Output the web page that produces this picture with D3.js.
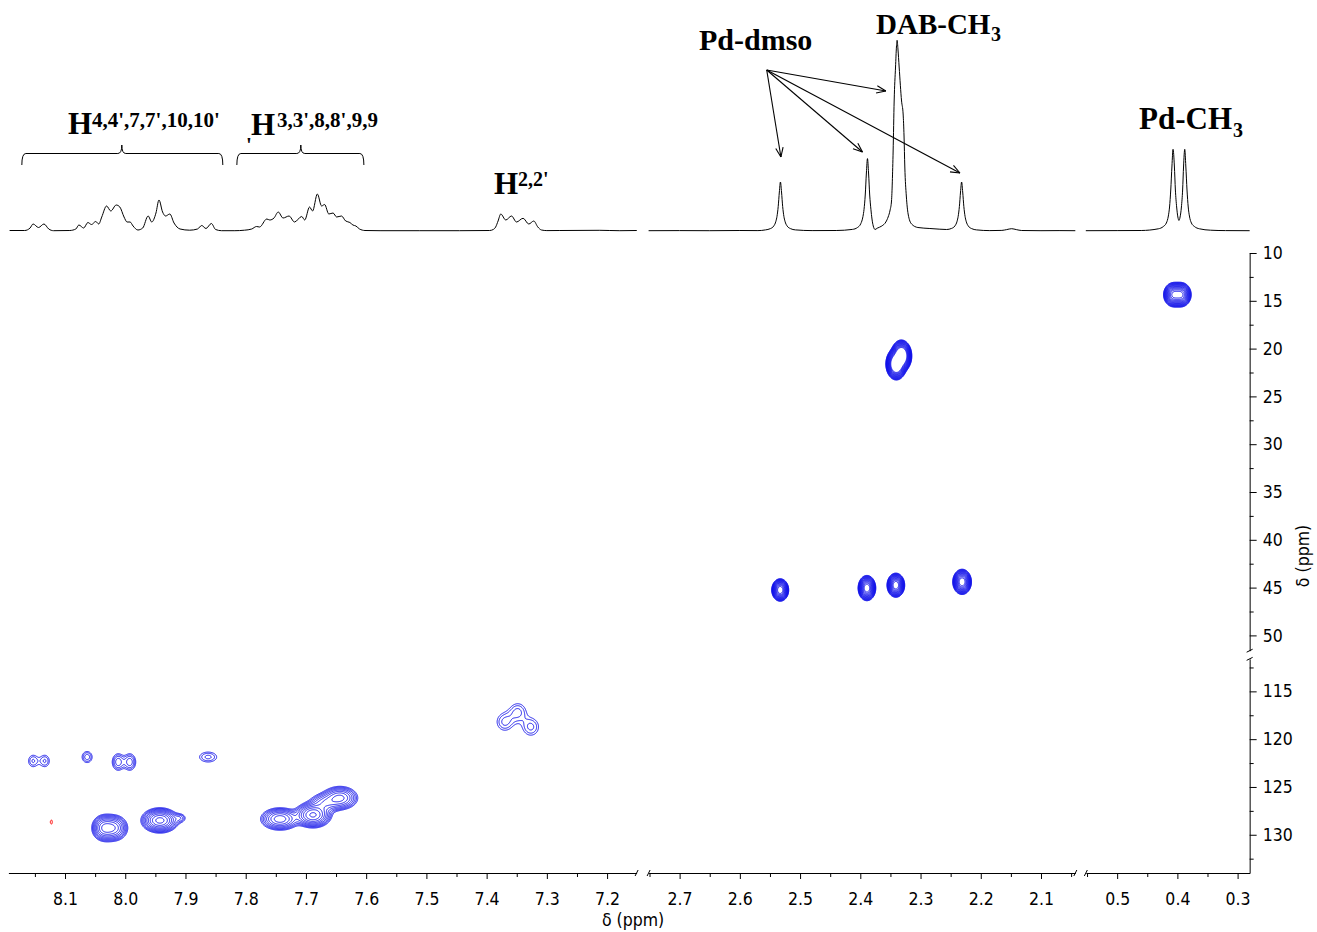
<!DOCTYPE html>
<html>
<head>
<meta charset="utf-8">
<script src="https://cdn.jsdelivr.net/npm/d3@7"></script>
<style>
  body { margin: 0; background: #fff; overflow: hidden; }
  svg { display: block; }
</style>
</head>
<body>
<div id="chart"></div>
<script>
// ---------------- data ----------------
// 1H axis pieces (ppm, left -> right) and 13C axis pieces (ppm, top -> bottom)
const xBreaks = [[8.194, 7.151], [2.7515, 2.043], [0.552, 0.280]];
const yBreaks = [[10, 51.6], [111.6, 134.0]];
const xTicks = [[8.1, 8.0, 7.9, 7.8, 7.7, 7.6, 7.5, 7.4, 7.3, 7.2],
                [2.7, 2.6, 2.5, 2.4, 2.3, 2.2, 2.1],
                [0.5, 0.4, 0.3]];
const yTicks = [[10, 15, 20, 25, 30, 35, 40, 45, 50], [115, 120, 125, 130]];

// 1D 1H trace, [ppm, intensity]
const traceAromatic = [
  [8.192,0.5],[8.167,0.5],[8.158,3],[8.153,7],[8.144,3.5],[8.135,7],[8.127,2],[8.119,0.3],
  [8.092,0.5],[8.082,2],[8.077,6],[8.069,3],[8.062,8.5],[8.056,6.5],[8.049,9.5],[8.044,7],
  [8.039,14],[8.031,25],[8.024,20],[8.015,26],[8.009,24],[8.002,14],[7.997,9],[7.992,9],
  [7.987,5],[7.979,1],[7.971,3],[7.962,15],[7.956,9],[7.949,18],[7.944,31],[7.938,19],
  [7.933,15],[7.926,17],[7.919,8],[7.909,2],[7.893,0.8],[7.880,2],[7.873,5.5],[7.866,2.5],
  [7.857,7.5],[7.850,1.5],[7.840,0.3],[7.818,0.3],[7.802,0.8],[7.790,2],[7.782,4.5],
  [7.777,4],[7.765,12],[7.760,11],[7.753,13],[7.746,19],[7.738,13],[7.728,15],[7.719,9],
  [7.707,14.5],[7.702,11],[7.694,24],[7.689,20],[7.681,37],[7.674,25],[7.669,26.5],
  [7.662,17],[7.655,18],[7.649,14],[7.641,15],[7.634,10],[7.627,8.5],[7.622,6],[7.617,5],
  [7.611,2],[7.602,0.5],[7.577,0.3],[7.511,0.3],[7.445,0.3],[7.395,0.5],[7.389,1.5],
  [7.385,4],[7.381,10],[7.3765,17],[7.3682,11],[7.3587,15],[7.3504,9],[7.3395,12.7],
  [7.3300,7],[7.3217,10],[7.3150,4],[7.3089,1],[7.300,0.4],[7.2785,0.5],[7.2121,0.7],
  [7.1789,0.3],[7.1507,0.5]
];
const traceMethyl = [
  [2.7515,0.3],[2.70,0.4],[2.65,0.3],[2.60,0.5],[2.57,0.4],
  [2.5575,1.1],[2.5492,2.4],[2.5438,4.9],[2.5401,9.8],[2.5383,14.7],[2.5363,24.5],[2.5344,39],
  [2.5326,49],[2.5308,39],[2.5289,24.5],[2.5269,14.7],[2.5251,9.8],[2.5214,4.9],[2.5160,2.4],
  [2.5077,1.1],[2.48,0.4],[2.44,0.5],
  [2.4130,1.6],[2.4047,3.5],[2.3993,7.2],[2.3956,14.5],[2.3938,21.7],[2.3918,36],[2.3899,58],
  [2.3881,72.4],[2.3863,58],[2.3844,36],[2.3824,21.7],[2.3806,12],[2.3785,5],[2.3768,2.2],
  [2.3755,1.5],[2.3720,2.8],
  [2.3643,5],[2.3576,9],[2.3538,14],[2.3505,21],[2.3482,30],[2.3455,80],[2.3438,130],
  [2.3415,164],[2.3400,184],[2.3389,190.7],[2.3375,182],[2.3355,164],[2.3315,130],
  [2.3289,117],[2.3274,95],[2.3261,64],[2.3236,35],[2.3206,17],[2.3149,7],[2.3044,3.5],
  [2.2845,2.5],[2.2679,1.8],
  [2.2567,1.5],[2.2484,2.6],[2.2430,5],[2.2393,9.8],[2.2375,14.7],[2.2355,24.5],[2.2336,39],
  [2.2318,49],[2.2300,39],[2.2281,24.5],[2.2261,14.7],[2.2243,9.8],[2.2206,4.9],[2.2152,2.4],
  [2.2069,1.1],[2.185,0.4],[2.165,0.6],[2.157,1.4],[2.1487,2.3],[2.141,1.4],[2.132,0.5],
  [2.10,0.3],[2.07,0.4],[2.043,0.3]
];
const tracePdMe = [
  [0.552,0.3],[0.50,0.4],[0.46,0.5],[0.4317,2.2],[0.4233,4.5],[0.4183,8],[0.415,15],
  [0.413,24],[0.411,41],[0.409,65],[0.4072,81.7],[0.405,65],[0.4033,41],[0.4012,24],
  [0.3992,14],[0.3973,10.5],[0.3955,14],[0.3933,24],[0.3913,41],[0.3897,65],[0.3878,81.7],
  [0.386,65],[0.384,41],[0.382,24],[0.38,15],[0.3767,8],[0.3717,4.5],[0.3633,2.2],
  [0.345,0.8],[0.32,0.4],[0.28,0.3]
];

// HSQC cross peaks: [1H ppm, 13C ppm, 1H width, 13C width, intensity]
const crossPeaks = [
  // Pd-CH3
  [0.406, 14.36, 0.0060, 0.45, 55], [0.394, 14.36, 0.0060, 0.45, 55],
  // DAB-CH3
  [2.3319, 20.77, 0.0053, 0.51, 220], [2.3402, 21.61, 0.0053, 0.51, 220],
  // Pd-dmso
  [2.533, 45.25, 0.0048, 0.40, 75], [2.389, 45.05, 0.0050, 0.45, 75],
  [2.341, 44.75, 0.0050, 0.43, 75], [2.231, 44.40, 0.0053, 0.45, 75],
  // aromatic, 13C ~122
  [8.1530, 122.28, 0.0066, 0.52, 1.9], [8.1336, 122.28, 0.0066, 0.52, 1.9],
  [8.0633, 121.87, 0.0066, 0.46, 2.2],
  [8.0118, 122.39, 0.0066, 0.58, 3.0], [7.9924, 122.39, 0.0066, 0.58, 3.0],
  [7.8624, 121.87, 0.0120, 0.44, 2.0],
  // aromatic, 13C ~128
  [8.0356, 129.29, 0.0093, 0.63, 10], [8.0190, 129.29, 0.0108, 0.63, 10],
  [7.9425, 128.50, 0.0133, 0.56, 17], [7.9090, 128.25, 0.0066, 0.31, 2.0],
  [7.7431, 128.35, 0.0150, 0.55, 10], [7.6884, 127.93, 0.0133, 0.58, 16],
  [7.6435, 126.15, 0.0141, 0.58, 9], [7.6687, 126.68, 0.0133, 0.52, 5],
  // H2,2'
  [7.3698, 118.20, 0.0108, 0.73, 2.0], [7.3482, 117.16, 0.0108, 0.73, 2.0],
  [7.3266, 118.72, 0.0108, 0.73, 2.0]
];
const negativePeaks = [[8.1227, 128.67, 0.0017, 0.23, 1.6]];
const contourBase = 1, contourStep = 1.35, contourCount = 14;

// brace annotations over the aromatic region: [left, middle, right] ppm
const braces = [[8.1717, 8.0057, 7.838], [7.8147, 7.7085, 7.6038]];
// Pd-dmso arrows: start and tips, [ppm, y]
const arrowStart = [2.5554, 70];
const arrowTips = [[2.5318, 157], [2.3964, 152], [2.3576, 91], [2.2346, 173]];

// ---------------- layout ----------------
const width = 1317, height = 932;
const pxPerH = 602.3, pxPerC = 9.56;
const plotLeft = 8.4, plotTop = 253, plotBottom = 873;
const xGaps = [12, 10.5];
const tickFont = "'DejaVu Sans Condensed', 'DejaVu Sans', sans-serif";
const serif = "'Liberation Serif', 'Times New Roman', serif";

const svg = d3.select('#chart').append('svg')
  .attr('width', width)
  .attr('height', height);

let cursor = plotLeft;
const xScales = xBreaks.map((d, i) => {
  const w = (d[0] - d[1]) * pxPerH;
  const s = d3.scaleLinear().domain(d).range([cursor, cursor + w]);
  cursor += w + (xGaps[i] || 0);
  return s;
});
const plotRight = xScales[2].range()[1];

const yUpper = d3.scaleLinear().domain(yBreaks[0])
  .range([plotTop, plotTop + (yBreaks[0][1] - yBreaks[0][0]) * pxPerC]);
const yLower = d3.scaleLinear().domain(yBreaks[1])
  .range([plotBottom - (yBreaks[1][1] - yBreaks[1][0]) * pxPerC, plotBottom]);
const yScales = [yUpper, yLower];

function xPos(h) {
  const s = xScales.find(s => h <= s.domain()[0] && h >= s.domain()[1]) || xScales[0];
  return s(h);
}
function yPos(c) {
  return c < 80 ? yUpper(c) : yLower(c);
}

// 1D trace scale
const yTrace = d3.scaleLinear().domain([0, 200]).range([231, 31]);

// ---------------- 1D spectrum ----------------
[traceAromatic, traceMethyl, tracePdMe].forEach((tr, i) => {
  const line = d3.line()
    .x(d => xScales[i](d[0]))
    .y(d => yTrace(d[1]))
    .curve(d3.curveMonotoneX);
  svg.append('path')
    .datum(tr)
    .attr('d', line)
    .attr('fill', 'none')
    .attr('stroke', '#000')
    .attr('stroke-width', 1);
});

// ---------------- 2D contours ----------------
const gx0 = Math.floor(plotLeft), gy0 = plotTop;
const gw = Math.ceil(plotRight) - gx0 + 2, gh = plotBottom - plotTop + 1;

function buildGrid(peaks) {
  const v = new Float64Array(gw * gh);
  peaks.forEach(([h, c, wh, wc, a]) => {
    const cx = xPos(h) - gx0, cy = yPos(c) - gy0;
    const sx = wh * pxPerH, sy = wc * pxPerC;
    const i0 = Math.max(0, Math.floor(cx - 5 * sx)), i1 = Math.min(gw - 1, Math.ceil(cx + 5 * sx));
    const j0 = Math.max(0, Math.floor(cy - 5 * sy)), j1 = Math.min(gh - 1, Math.ceil(cy + 5 * sy));
    for (let j = j0; j <= j1; j++) {
      const dy = (j + 0.5 - cy) / sy;
      for (let i = i0; i <= i1; i++) {
        const dx = (i + 0.5 - cx) / sx;
        v[j * gw + i] += a * Math.exp(-0.5 * (dx * dx + dy * dy));
      }
    }
  });
  return v;
}

const levels = d3.range(contourCount).map(k => contourBase * Math.pow(contourStep, k));
const contourPath = d3.geoPath(d3.geoIdentity().translate([gx0, gy0]));

const posContours = d3.contours().size([gw, gh]).thresholds(levels)(buildGrid(crossPeaks));
svg.append('g')
  .selectAll('path')
  .data(posContours)
  .join('path')
  .attr('d', contourPath)
  .attr('fill', 'none')
  .attr('stroke', '#0a0ae8')
  .attr('stroke-width', 0.9);

const negContours = d3.contours().size([gw, gh]).thresholds([contourBase])(buildGrid(negativePeaks));
svg.append('g')
  .selectAll('path')
  .data(negContours)
  .join('path')
  .attr('d', contourPath)
  .attr('fill', 'none')
  .attr('stroke', '#ff0000')
  .attr('stroke-width', 1);

// ---------------- axes ----------------
function styleAxis(g) {
  g.select('.domain').attr('stroke', '#000').attr('stroke-width', 1);
  g.selectAll('.tick line').attr('stroke', '#000').attr('stroke-width', 1);
  g.selectAll('text')
    .attr('fill', '#000')
    .style('font-family', tickFont)
    .style('font-stretch', 'condensed')
    .style('font-size', '17.5px');
}

xScales.forEach((s, i) => {
  const [hi, lo] = s.domain();
  const minor = d3.range(Math.ceil(lo * 20), Math.floor(hi * 20) + 1)
    .filter(k => k % 2 !== 0).map(k => k / 20);
  svg.append('g')
    .attr('transform', `translate(0,${plotBottom})`)
    .call(d3.axisBottom(s).tickValues(minor).tickSize(4).tickSizeOuter(0).tickFormat(''))
    .call(g => g.select('.domain').remove())
    .call(styleAxis);
  svg.append('g')
    .attr('transform', `translate(0,${plotBottom})`)
    .call(d3.axisBottom(s).tickValues(xTicks[i]).tickSize(6).tickSizeOuter(0)
      .tickPadding(14).tickFormat(d3.format('.1f')))
    .call(styleAxis);
});

yScales.forEach((s, i) => {
  const [lo, hi] = s.domain();
  const minor = d3.range(Math.ceil(lo / 2.5), Math.floor(hi / 2.5) + 1)
    .filter(k => k % 2 !== 0).map(k => k * 2.5);
  svg.append('g')
    .attr('transform', `translate(${plotRight},0)`)
    .call(d3.axisRight(s).tickValues(minor).tickSize(4).tickSizeOuter(0).tickFormat(''))
    .call(g => g.select('.domain').remove())
    .call(styleAxis);
  svg.append('g')
    .attr('transform', `translate(${plotRight},0)`)
    .call(d3.axisRight(s).tickValues(yTicks[i]).tickSize(7).tickSizeOuter(0)
      .tickPadding(6).tickFormat(d3.format('d')))
    .call(styleAxis);
});

// axis break marks
const breaks = svg.append('g').attr('stroke', '#000').attr('stroke-width', 1);
xScales.forEach((s, i) => {
  const [a, b] = s.range();
  if (i > 0) breaks.append('line').attr('x1', a - 1.5).attr('y1', plotBottom + 3).attr('x2', a + 1.5).attr('y2', plotBottom - 3);
  if (i < xScales.length - 1) breaks.append('line').attr('x1', b - 1.5).attr('y1', plotBottom + 3).attr('x2', b + 1.5).attr('y2', plotBottom - 3);
});
[yUpper.range()[1], yLower.range()[0]].forEach(y => {
  breaks.append('line').attr('x1', plotRight - 3).attr('y1', y + 1.5).attr('x2', plotRight + 3).attr('y2', y - 1.5);
});

// axis titles
svg.append('text')
  .attr('x', 633).attr('y', 926)
  .attr('text-anchor', 'middle')
  .style('font-family', tickFont).style('font-stretch', 'condensed').style('font-size', '17.5px')
  .text('δ (ppm)');
svg.append('text')
  .attr('transform', 'translate(1309,556) rotate(-90)')
  .attr('text-anchor', 'middle')
  .style('font-family', tickFont).style('font-stretch', 'condensed').style('font-size', '17.5px')
  .text('δ (ppm)');

// ---------------- annotations ----------------
function label(x, y, size, txt) {
  svg.append('text')
    .attr('x', x).attr('y', y)
    .style('font-family', serif)
    .style('font-weight', 'bold')
    .style('font-size', size + 'px')
    .text(txt);
}
label(68, 134, 31, 'H');
label(92, 127, 21, "4,4',7,7',10,10'");
label(251, 135, 31, 'H');
label(277, 127, 21, "3,3',8,8',9,9");
label(246, 152, 21, "'");
label(494, 194, 31, 'H');
label(518, 186, 20, "2,2'");
label(699, 50, 30, 'Pd-dmso');
label(876, 34, 29, 'DAB-CH');
label(991, 41, 20, '3');
label(1139, 129, 31, 'Pd-CH');
label(1233, 137, 20, '3');

// braces
braces.forEach(([l, m, r]) => {
  const x0 = xScales[0](l), xm = xScales[0](m), x1 = xScales[0](r);
  const yTop = 153.5, yEnd = 165, yNub = 145;
  svg.append('path')
    .attr('d', `M${x0},${yEnd} Q${x0},${yTop} ${x0 + 4},${yTop} L${xm - 4},${yTop} Q${xm},${yTop} ${xm},${yNub} ` +
               `Q${xm},${yTop} ${xm + 4},${yTop} L${x1 - 4},${yTop} Q${x1},${yTop} ${x1},${yEnd}`)
    .attr('fill', 'none')
    .attr('stroke', '#000')
    .attr('stroke-width', 1);
});

// arrows
const ax0 = xScales[1](arrowStart[0]), ay0 = arrowStart[1];
arrowTips.forEach(([p, y]) => {
  const tx = xScales[1](p);
  const ang = Math.atan2(y - ay0, tx - ax0);
  const g = svg.append('g').attr('stroke', '#000').attr('stroke-width', 1.1).attr('fill', 'none');
  g.append('line').attr('x1', ax0).attr('y1', ay0).attr('x2', tx).attr('y2', y);
  [-0.38, 0.38].forEach(da => {
    g.append('line')
      .attr('x1', tx).attr('y1', y)
      .attr('x2', tx - 10 * Math.cos(ang + da))
      .attr('y2', y - 10 * Math.sin(ang + da));
  });
});
</script>
</body>
</html>
